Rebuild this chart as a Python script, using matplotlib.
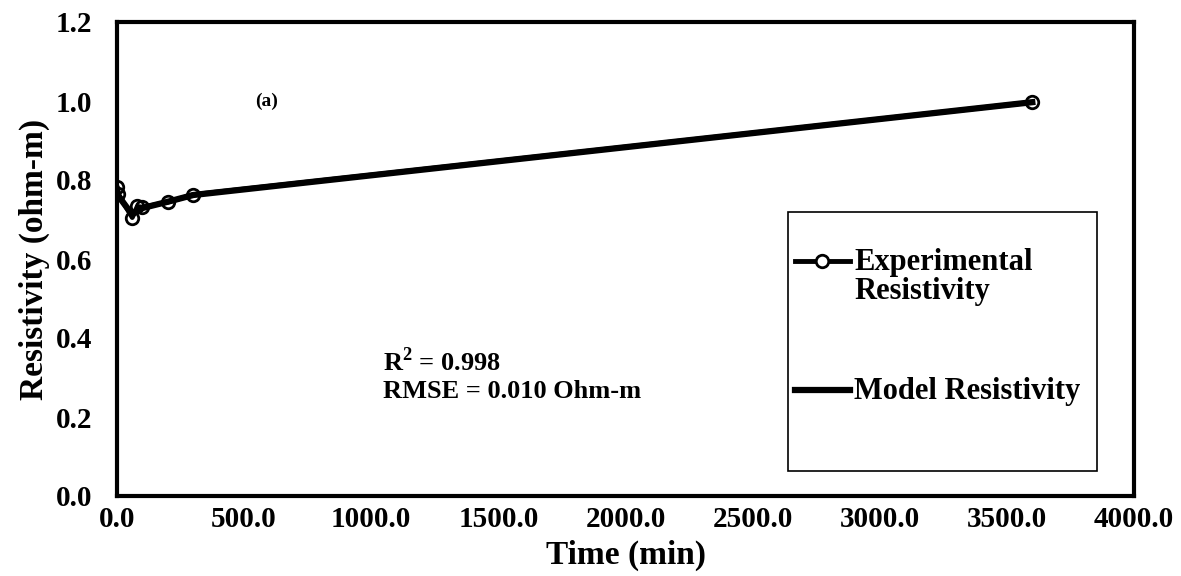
import matplotlib
matplotlib.use("Agg")
import matplotlib.pyplot as plt
from matplotlib.lines import Line2D
from matplotlib.patches import Rectangle

time_min = [0, 5, 60, 80, 100, 200, 300, 3600]
exp_res = [0.782, 0.765, 0.705, 0.733, 0.731, 0.744, 0.763, 0.997]
model_res = [0.776, 0.760, 0.712, 0.724, 0.729, 0.745, 0.762, 0.997]
x_ticks = [0, 500, 1000, 1500, 2000, 2500, 3000, 3500, 4000]
y_ticks = [0.0, 0.2, 0.4, 0.6, 0.8, 1.0, 1.2]

plt.rcParams['font.family'] = ['Liberation Serif', 'DejaVu Serif']
plt.rcParams['font.weight'] = 'bold'
plt.rcParams['mathtext.fontset'] = 'custom'
plt.rcParams['mathtext.bf'] = 'Liberation Serif:bold'

W, H = 1181, 576
fig = plt.figure(figsize=(W / 100, H / 100), dpi=100)
ax = fig.add_axes([117 / W, 80 / H, (1134 - 117) / W, (496 - 22) / H])

ax.plot(time_min, model_res, color='black', lw=4.5, zorder=2)
ax.plot(time_min, exp_res, color='black', lw=3.5, marker='o', ms=9,
        mfc='none', mec='black', mew=2, zorder=3)

ax.set_xlim(0, 4000)
ax.set_ylim(0, 1.2)
ax.set_xticks(x_ticks)
ax.set_xticklabels([f"{v:.1f}" for v in x_ticks])
ax.set_yticks(y_ticks)
ax.set_yticklabels([f"{v:.1f}" for v in y_ticks])
ax.tick_params(axis='x', length=0, labelsize=21, pad=7)
ax.tick_params(axis='y', length=0, labelsize=21, pad=18)
for lab in ax.get_xticklabels() + ax.get_yticklabels():
    lab.set_fontweight('bold')
for s in ax.spines.values():
    s.set_linewidth(3)
    s.set_color('black')

ax.set_xlabel('Time (min)', fontsize=24, fontweight='bold', labelpad=5)
ax.set_ylabel('Resistivity (ohm-m)', fontsize=24, fontweight='bold', labelpad=4)

fig.text(255 / W, 1 - 101 / H, '(a)', fontsize=14, fontweight='bold', va='center')
fig.text(383 / W, 1 - 362 / H, r'R$^{\mathbf{2}}$ = 0.998', fontsize=19,
         fontweight='bold', va='center')
fig.text(383 / W, 1 - 392 / H, 'RMSE = 0.010 Ohm-m', fontsize=19,
         fontweight='bold', va='center')

# legend box and entries
fig.patches.append(Rectangle((788 / W, 1 - 471 / H), (1097 - 788) / W, (471 - 212) / H,
                             transform=fig.transFigure, fill=False,
                             edgecolor='black', lw=1.2))
legend_entries = [
    ('Experimental\nResistivity', 261, True, 3.5),
    ('Model Resistivity', 390, False, 4.5),
]
for label, ypix, has_marker, lw in legend_entries:
    yf = 1 - ypix / H
    fig.lines.append(Line2D([795 / W, 850 / W], [yf, yf], transform=fig.transFigure,
                            color='black', lw=lw))
    if has_marker:
        fig.lines.append(Line2D([822 / W], [yf], transform=fig.transFigure,
                                color='black', ls='none', marker='o', ms=9,
                                mfc='white', mec='black', mew=2))
    fig.text(854 / W, yf + 13 / H, label, fontsize=22, fontweight='bold',
             va='top', ha='left', linespacing=0.98)

fig.savefig('out.png', dpi=100)
